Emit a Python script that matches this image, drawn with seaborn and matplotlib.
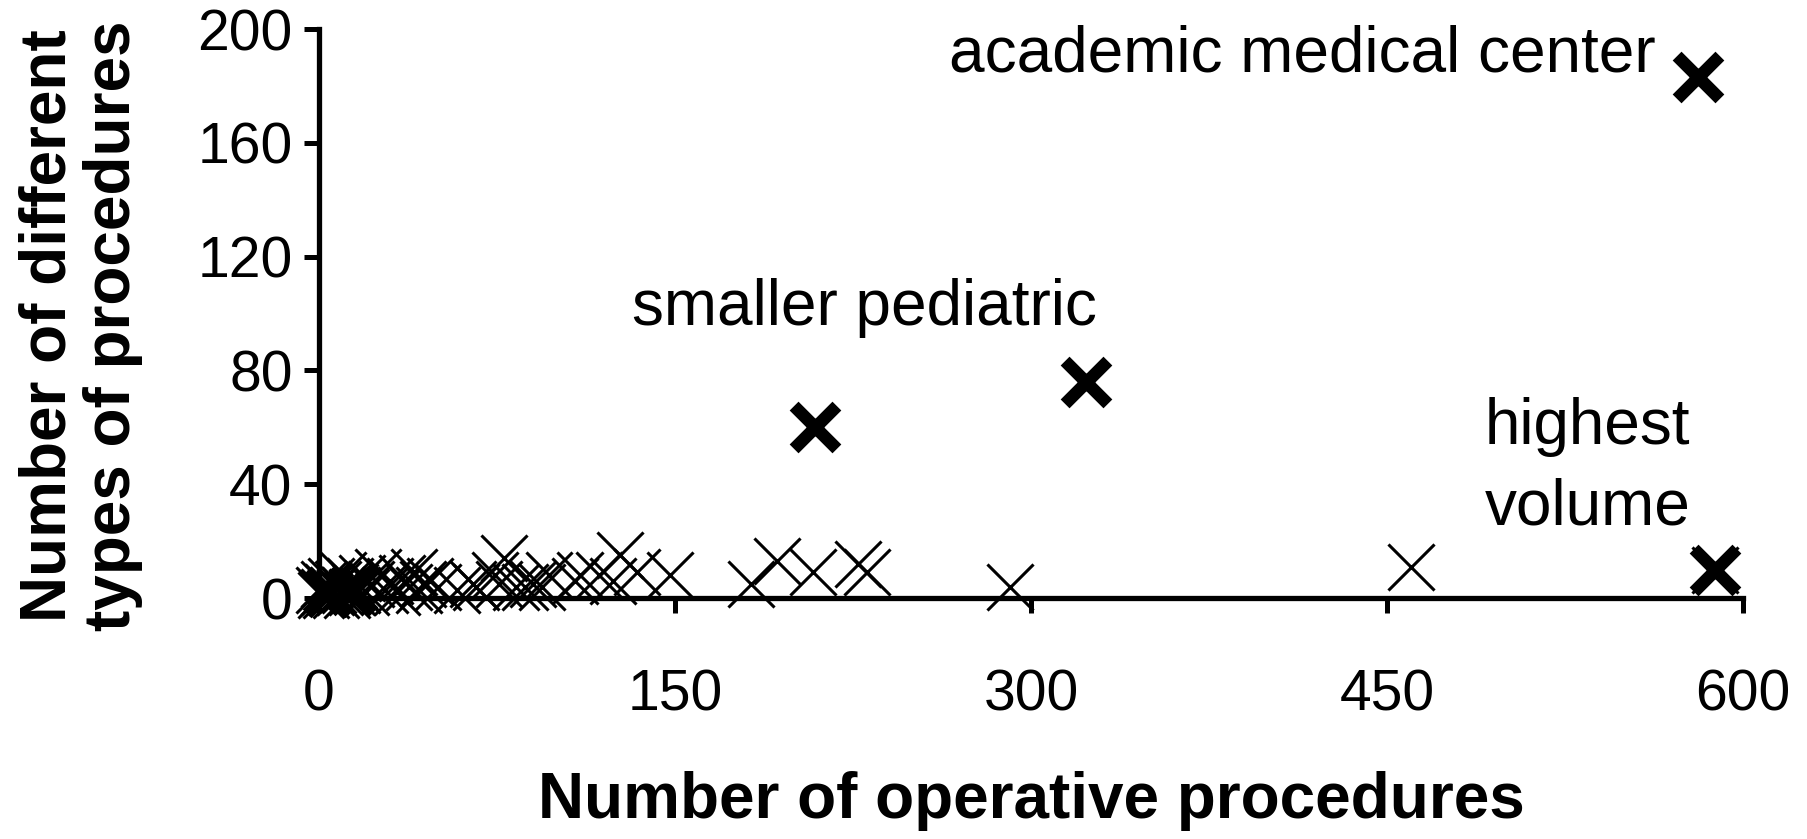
import matplotlib
matplotlib.use("Agg")
import matplotlib.pyplot as plt
from matplotlib.markers import MarkerStyle
import seaborn as sns
import pandas as pd

# Ordinary hospitals (thin markers)
x_thin = [0, 1, 2, 2, 3, 4, 5, 5, 6, 7, 8, 9, 10, 11, 12, 13, 14, 15, 16, 18, 20,
          22, 25, 28, 30, 33, 35, 38, 40, 42, 44, 47, 50,
          58, 65, 66, 74, 76, 78, 83, 87, 90, 94, 97,
          108, 110, 118, 124, 127, 134, 148,
          182, 193, 208, 227, 231, 291, 460, 588]
y_thin = [3, 1, 2, 5, 1, 4, 2, 6, 3, 1, 5, 2, 8, 3, 1, 6, 2, 4, 3, 7, 2,
          5, 9, 3, 6, 2, 7, 4, 9, 3, 5, 6, 4,
          3, 5, 4, 8, 5, 14, 4, 4, 5, 4, 8,
          6, 8, 8, 6, 15, 9, 8,
          5, 13, 9, 12, 9, 4, 11, 10]

# Highlighted hospitals (bold markers)
x_bold = [4, 14, 209, 323, 581, 588]
y_bold = [2, 3, 60, 76, 183, 10]

x_ticks = [0, 150, 300, 450, 600]
y_ticks = [0, 40, 80, 120, 160, 200]

x_label = "Number of operative procedures"
y_label = "Number of different\ntypes of procedures"

sns.set_theme(style="white")
plt.rcParams['font.family'] = ['Liberation Sans', 'DejaVu Sans']

fig = plt.figure(figsize=(18.07, 8.39), dpi=100)
ax = fig.add_axes([0.1765, 0.2872, 0.7881, 0.6782])

df_thin = pd.DataFrame({"x": x_thin, "y": y_thin})
df_bold = pd.DataFrame({"x": x_bold, "y": y_bold})

sns.scatterplot(data=df_thin, x="x", y="y", ax=ax, marker="x", color="black",
                s=1100, linewidth=2.2, clip_on=False, zorder=3)
bold_marker = MarkerStyle("x", capstyle="round")
sns.scatterplot(data=df_bold, x="x", y="y", ax=ax, marker=bold_marker, color="black",
                s=950, linewidth=9, clip_on=False, zorder=4)

ax.set_xlim(0, 600)
ax.set_ylim(0, 200)
ax.set_xticks(x_ticks)
ax.set_yticks(y_ticks)
ax.tick_params(axis="x", direction="out", length=11, width=3.6, labelsize=41,
               pad=40, colors="black", bottom=True)
ax.tick_params(axis="y", direction="out", length=11, width=3.6, labelsize=41,
               pad=8, colors="black", left=True)

for side in ["top", "right"]:
    ax.spines[side].set_visible(False)
for side in ["left", "bottom"]:
    ax.spines[side].set_linewidth(3.8)
    ax.spines[side].set_color("black")

ax.set_xlabel(x_label, fontsize=46, fontweight="bold", color="black", va="center")
ax.xaxis.set_label_coords(0.5, -0.357)
ax.set_ylabel(y_label, fontsize=46, fontweight="bold", color="black", linespacing=1.1,
              va="center")
ax.yaxis.set_label_coords(-0.167, 0.478)

ax.text(563, 191, "academic medical center", fontsize=46, ha="right", va="center", color="black")
ax.text(132, 102, "smaller pediatric", fontsize=46, ha="left", va="center", color="black")
ax.text(491, 46, "highest\nvolume", fontsize=46, ha="left", va="center", color="black",
        linespacing=1.42)

ax.grid(False)
fig.savefig("out.png", dpi=100, facecolor="white")
